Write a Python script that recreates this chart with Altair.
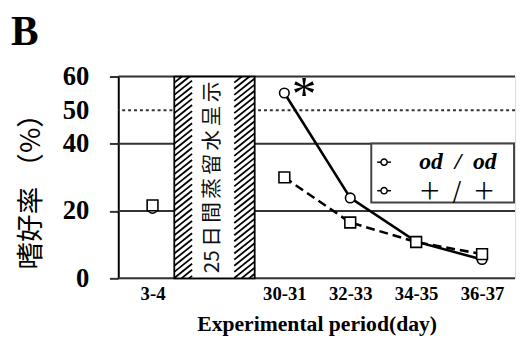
import altair as alt
import numpy as np
import pandas as pd

# ---- data ----
periods = ["3-4", "30-31", "32-33", "34-35", "36-37"]
slots = [0, 2, 3, 4, 5]          # slot 1 is taken by the hatched interval
od_od = [20.8, 55.1, 23.9, 10.9, 5.6]
wild = [21.7, 30.0, 16.6, 10.8, 7.2]
axis_labels = ["3-4", "", "30-31", "32-33", "34-35", "36-37"]
grid_solid = [0, 20, 40, 60]
grid_dotted = [50]
y_ticks = [0, 20, 40, 50, 60]
gap_start, gap_text_l, gap_text_r, gap_end = 0.33, 0.60, 1.24, 1.55
gap_label = "25\u2006日\u2006間\u2006蒸\u2006留\u2006水\u2006呈\u2006示"

XMIN, XMAX = -0.52, 5.5
YMIN, YMAX = 0, 60
W, H = 403, 205
SERIF = "Liberation Serif"
CJK = "Noto Sans CJK JP"

df = pd.DataFrame({
    "slot": slots * 2,
    "value": od_od + wild,
    "series": ["od"] * len(slots) + ["wt"] * len(slots),
})
lines_df = df[df["slot"] >= 2]

# hatch pattern for the interval bar (decoration, built from the bar limits)
def hatch_segments(x0, x1, spacing=6.2, k=0.8):
    a = (x0 - XMIN) / (XMAX - XMIN) * W
    b = (x1 - XMIN) / (XMAX - XMIN) * W
    segs = []
    for c in np.arange(0, H + k * (b - a) + spacing, spacing):
        xs, xe = a, b
        ys, ye = c, c - k * (b - a)
        if ys > H:
            xs = a + (ys - H) / k
            ys = H
        if ye < 0:
            xe = a + c / k
            ye = 0
        if xe <= xs:
            continue
        segs.append({
            "x": XMIN + xs / W * (XMAX - XMIN),
            "x2": XMIN + xe / W * (XMAX - XMIN),
            "y": YMAX * (1 - ys / H),
            "y2": YMAX * (1 - ye / H),
        })
    return segs

hatch_df = pd.DataFrame(hatch_segments(gap_start, gap_text_l) + hatch_segments(gap_text_r, gap_end))

xscale = alt.Scale(domain=[XMIN, XMAX], nice=False, zero=False)
yscale = alt.Scale(domain=[YMIN, YMAX], nice=False)

label_expr = "[" + ",".join("'" + s + "'" for s in axis_labels) + "][datum.value]"

x_axis = alt.Axis(values=slots, labelExpr=label_expr, domain=False, ticks=False, grid=False,
                  labelFont=SERIF, labelFontWeight="bold", labelFontSize=19, labelColor="black",
                  labelPadding=7, title="Experimental period(day)", titleFont=SERIF,
                  titleFontWeight="bold", titleFontSize=22, titleColor="black", titlePadding=10)
y_axis = alt.Axis(values=y_ticks, domain=True, domainColor="black", domainWidth=2,
                  ticks=True, tickSize=9, tickColor="#333", tickWidth=2,
                  tickOpacity={"condition": {"test": "datum.value == 50", "value": 0}, "value": 1},
                  grid=False, labelFont=SERIF, labelFontWeight="bold", labelFontSize=27,
                  labelColor="black", labelPadding=21, title=None)

grid_s = alt.Chart(pd.DataFrame({"g": grid_solid})).mark_rule(color="#333", strokeWidth=2).encode(
    y=alt.Y("g:Q", scale=yscale, axis=y_axis))
grid_d = alt.Chart(pd.DataFrame({"g": grid_dotted})).mark_rule(color="#333", strokeWidth=2, strokeDash=[3, 3]).encode(
    y=alt.Y("g:Q", scale=yscale))

bar = alt.Chart(pd.DataFrame({"a": [gap_start], "b": [gap_end], "lo": [YMIN], "hi": [YMAX]})).mark_rect(
    fill="white", stroke="black", strokeWidth=1.8).encode(
    x=alt.X("a:Q", scale=xscale, axis=x_axis), x2="b:Q", y=alt.Y("lo:Q", scale=yscale), y2="hi:Q")

hatch = alt.Chart(hatch_df).mark_rule(color="black", strokeWidth=1.8).encode(
    x=alt.X("x:Q", scale=xscale), x2="x2:Q", y=alt.Y("y:Q", scale=yscale), y2="y2:Q")

bar_text = alt.Chart(pd.DataFrame({"x": [(gap_text_l + gap_text_r) / 2], "y": [30.0], "t": [gap_label]})).mark_text(
    angle=270, font=CJK, fontSize=21, color="#111", align="center", baseline="middle").encode(
    x=alt.X("x:Q", scale=xscale), y=alt.Y("y:Q", scale=yscale), text="t:N")

line_od = alt.Chart(lines_df[lines_df["series"] == "od"]).mark_line(color="black", strokeWidth=2.6).encode(
    x=alt.X("slot:Q", scale=xscale), y=alt.Y("value:Q", scale=yscale))
line_wt = alt.Chart(lines_df[lines_df["series"] == "wt"]).mark_line(color="black", strokeWidth=2.6, strokeDash=[9, 5]).encode(
    x=alt.X("slot:Q", scale=xscale), y=alt.Y("value:Q", scale=yscale))

pts_od = alt.Chart(df[df["series"] == "od"]).mark_point(shape="circle", size=95, filled=True, fill="white",
                                                     stroke="black", strokeWidth=1.6, opacity=1).encode(
    x=alt.X("slot:Q", scale=xscale), y=alt.Y("value:Q", scale=yscale))
pts_wt = alt.Chart(df[df["series"] == "wt"]).mark_point(shape="square", size=120, filled=True, fill="white",
                                                     stroke="black", strokeWidth=1.6, opacity=1).encode(
    x=alt.X("slot:Q", scale=xscale), y=alt.Y("value:Q", scale=yscale))

star = alt.Chart(pd.DataFrame({"x": [slots[1]], "y": [od_od[1]], "t": ["*"]})).mark_text(
    font=SERIF, fontSize=50, color="black", align="center", baseline="alphabetic", dx=20, dy=17).encode(
    x=alt.X("x:Q", scale=xscale), y=alt.Y("y:Q", scale=yscale), text="t:N")

one = pd.DataFrame({"k": [0]})
leg_box = alt.Chart(one).mark_rect(fill="white", stroke="#444", strokeWidth=2).encode(
    x=alt.value(257), x2=alt.value(402), y=alt.value(68), y2=alt.value(128))
leg_l1 = alt.Chart(one).mark_rule(color="black", strokeWidth=1.5).encode(
    x=alt.value(263), x2=alt.value(277), y=alt.value(87))
leg_l2 = alt.Chart(one).mark_rule(color="black", strokeWidth=1.5).encode(
    x=alt.value(263), x2=alt.value(277), y=alt.value(116))
leg_p1 = alt.Chart(one).mark_point(shape="circle", size=40, filled=True, fill="white", stroke="black",
                                   strokeWidth=1.5, opacity=1).encode(x=alt.value(270), y=alt.value(87))
leg_p2 = alt.Chart(one).mark_point(shape="circle", size=40, filled=True, fill="white", stroke="black",
                                   strokeWidth=1.5, opacity=1).encode(x=alt.value(270), y=alt.value(116))
leg_t1 = alt.Chart(one).mark_text(text="od\u2002/\u2002od", font=SERIF, fontStyle="italic", fontWeight="bold",
                                  fontSize=24, color="black", align="center", baseline="middle").encode(
    x=alt.value(345), y=alt.value(87))
leg_t2 = alt.Chart(one).mark_text(text="＋\u2002/\u2002＋", font=CJK, fontSize=23, color="black",
                                  align="center", baseline="middle").encode(
    x=alt.value(344), y=alt.value(117))

panel_b = alt.Chart(one).mark_text(text="B", font=SERIF, fontWeight="bold", fontSize=42, color="black",
                                   align="left", baseline="alphabetic").encode(
    x=alt.value(-109), y=alt.value(-32))
y_title = alt.Chart(one).mark_text(text="嗜好率 （%）", font=CJK, fontSize=28, color="black", angle=270,
                                   align="center", baseline="middle").encode(
    x=alt.value(-87), y=alt.value(110))

chart = alt.layer(
    grid_s, grid_d, bar, hatch, bar_text,
    line_wt, line_od, pts_od, pts_wt, star,
    leg_box, leg_l1, leg_l2, leg_p1, leg_p2, leg_t1, leg_t2,
    panel_b, y_title,
).properties(
    width=W, height=H,
    autosize=alt.AutoSizeParams(type="none"),
    padding={"left": 112, "top": 67, "right": 1, "bottom": 57},
).configure_view(stroke=None).configure(background="white")

chart.save("out.html", embed_options={"renderer": "svg", "actions": False})
